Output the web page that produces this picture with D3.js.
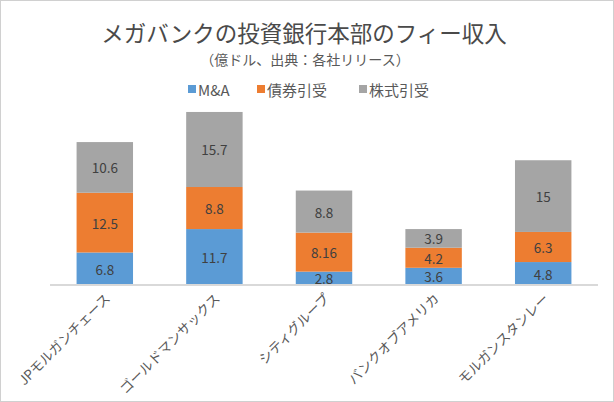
<!DOCTYPE html>
<html>
<head>
<meta charset="utf-8">
<script src="https://cdnjs.cloudflare.com/ajax/libs/d3/7.8.5/d3.min.js"></script>
<style>
  html, body { margin: 0; padding: 0; background: #fff; }
  svg { display: block; }
  text { font-family: "Noto Sans CJK JP", "Noto Sans", sans-serif; }
</style>
</head>
<body>
<svg id="chart" width="614" height="402"></svg>
<script>
const categories = ["JPモルガンチェース", "ゴールドマンサックス", "シティグループ", "バンクオブアメリカ", "モルガンスタンレー"];
const seriesNames = ["M&A", "債券引受", "株式引受"];
const maValues = [6.8, 11.7, 2.8, 3.6, 4.8];
const bondValues = [12.5, 8.8, 8.16, 4.2, 6.3];
const equityValues = [10.6, 15.7, 8.8, 3.9, 15];
const colors = ["#5B9BD5", "#ED7D31", "#A5A5A5"];
const titleText = "メガバンクの投資銀行本部のフィー収入";
const subtitleText = "（億ドル、出典：各社リリース）";

const W = 614, H = 402;
const svg = d3.select("#chart");

// border
svg.append("rect").attr("x", 0.5).attr("y", 0.5).attr("width", W - 1).attr("height", H - 1)
  .attr("fill", "#fff").attr("stroke", "#D0D0D0").attr("stroke-width", 1);

const table = categories.map((c, i) => ({
  cat: c, "M&A": maValues[i], "債券引受": bondValues[i], "株式引受": equityValues[i]
}));
const stacked = d3.stack().keys(seriesNames)(table);

const plotLeft = 50, plotRight = 598, baseY = 285;
const x = d3.scaleBand().domain(categories).range([plotLeft, plotRight]).paddingInner(0.485).paddingOuter(0.2425);
const y = d3.scaleLinear().domain([0, 40]).range([baseY, baseY - 40 * 4.78]);

// title
svg.append("text").attr("x", 304).attr("y", 32).attr("text-anchor", "middle")
  .attr("dominant-baseline", "central").attr("font-size", 22.5).attr("fill", "#4a4a4a")
  .text(titleText);
svg.append("text").attr("x", 305).attr("y", 59).attr("text-anchor", "middle")
  .attr("dominant-baseline", "central").attr("font-size", 14).attr("fill", "#595959")
  .text(subtitleText);

// legend
const legendX = [188, 257, 359];
const lg = svg.append("g");
seriesNames.forEach((n, i) => {
  lg.append("rect").attr("x", legendX[i]).attr("y", 85).attr("width", 8).attr("height", 8).attr("fill", colors[i]);
  lg.append("text").attr("x", legendX[i] + 10).attr("y", 89).attr("dominant-baseline", "central")
    .attr("font-size", 15).attr("fill", "#595959").text(n);
});

// bars
const layers = svg.append("g").selectAll("g").data(stacked).join("g").attr("fill", (d, i) => colors[i]);
layers.selectAll("rect").data(d => d).join("rect")
  .attr("x", d => x(d.data.cat))
  .attr("width", x.bandwidth())
  .attr("y", d => y(d[1]))
  .attr("height", d => y(d[0]) - y(d[1]));

// labels
const lbl = svg.append("g").selectAll("g").data(stacked).join("g");
lbl.selectAll("text").data(d => d.map(v => ({ v, key: d.key }))).join("text")
  .attr("x", d => x(d.v.data.cat) + x.bandwidth() / 2)
  .attr("y", d => (y(d.v[0]) + y(d.v[1])) / 2)
  .attr("text-anchor", "middle").attr("dominant-baseline", "central")
  .attr("font-size", 13.5).attr("fill", "#404040")
  .text(d => d.v.data[d.key]);

// x axis
const xAxis = svg.append("g").attr("transform", `translate(0,${baseY})`)
  .call(d3.axisBottom(x).tickSize(0).tickSizeOuter(0));
xAxis.select(".domain").attr("stroke", "#D9D9D9").attr("stroke-width", 2)
  .attr("d", `M${plotLeft},0H${plotRight}`);
xAxis.selectAll(".tick text")
  .attr("font-size", 13.5).attr("fill", "#595959")
  .attr("font-family", '"Noto Sans CJK JP", sans-serif')
  .attr("text-anchor", "end")
  .attr("dy", "0.35em")
  .attr("x", 0).attr("y", 0)
  .attr("transform", "translate(3,11) rotate(-45)");
</script>
</body>
</html>
